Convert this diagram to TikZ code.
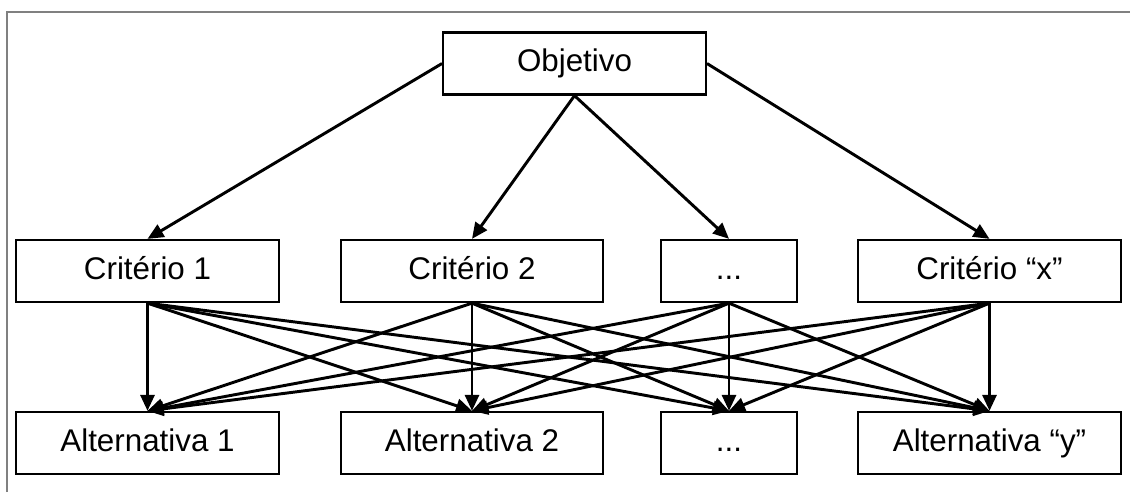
\documentclass[tikz,border=0pt]{standalone}
\usepackage{fontspec}
\setmainfont{Liberation Sans}
\usetikzlibrary{arrows.meta}

\begin{document}
\begin{tikzpicture}[x=0.75pt, y=-0.75pt,
        box/.style={draw, line width=1.7pt, minimum width=197pt, minimum height=46.5pt,
            inner sep=0pt, text height=17pt, text depth=5pt, font=\fontsize{23.5}{28}\selectfont},
        arr/.style={line width=2.2pt, -{Triangle[length=12pt, width=10.5pt]}}]
    \useasboundingbox (0,0) rectangle (1130,492);

    % Frame
    \draw[gray, line width=1.3pt] (7,492) -- (7,12) -- (1130,12);

    % Goal
    \node[box] (obj) at (574.5, 63.5) {Objetivo};

    % Criteria
    \node[box] (c1) at (147.5, 271) {Critério 1};
    \node[box] (c2) at (472, 271) {Critério 2};
    \node[box, minimum width=102pt] (c3) at (729, 271) {...};
    \node[box] (cx) at (989.5, 271) {Critério “x”};

    % Alternatives
    \node[box] (a1) at (147.5, 443) {Alternativa 1};
    \node[box] (a2) at (472, 443) {Alternativa 2};
    \node[box, minimum width=102pt] (a3) at (729, 443) {...};
    \node[box] (ay) at (989.5, 443) {Alternativa “y”};

    % Goal -> criteria
    \draw[arr] (obj.west) -- (c1.north);
    \draw[arr] (obj.south) -- (c2.north);
    \draw[arr] (obj.south) -- (c3.north);
    \draw[arr] (obj.east) -- (cx.north);

    % Criteria -> alternatives
    \path (c1.south) edge[arr] (a1.north) edge[arr] (a2.north) edge[arr] (a3.north) edge[arr] (ay.north);
    \path (c2.south) edge[arr] (a1.north) edge[arr] (a2.north) edge[arr] (a3.north) edge[arr] (ay.north);
    \path (c3.south) edge[arr] (a1.north) edge[arr] (a2.north) edge[arr] (a3.north) edge[arr] (ay.north);
    \path (cx.south) edge[arr] (a1.north) edge[arr] (a2.north) edge[arr] (a3.north) edge[arr] (ay.north);
\end{tikzpicture}
\end{document}
